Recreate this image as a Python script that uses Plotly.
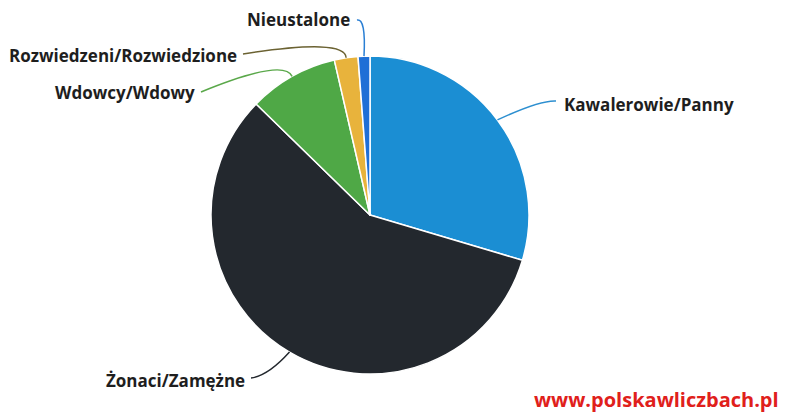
import math
import plotly.graph_objects as go

# ---- data ----
categories = ["Kawalerowie/Panny", "Żonaci/Zamężne", "Wdowcy/Wdowy",
              "Rozwiedzeni/Rozwiedzione", "Nieustalone"]
shares = [29.6, 57.7, 9.1, 2.4, 1.2]
colors = ["#1b8ed3", "#23282e", "#4fa846", "#e8b33c", "#1f6fd6"]
line_colors = ["#2d8fd0", "#23282e", "#5aa84a", "#6b6232", "#2a7fd4"]
watermark = "www.polskawliczbach.pl"

# ---- layout (pixels, in screenshot coordinates) ----
W, H = 794, 412
OFF = 8  # page body margin
cx, cy, r = 370, 215, 159
label_pos = {
    "Kawalerowie/Panny": dict(tx=562, ty=104, anchor="left", sx=556, sy=101, qx=540, qy=100),
    "Żonaci/Zamężne": dict(tx=247, ty=380, anchor="right", sx=251, sy=378, qx=268, qy=376),
    "Wdowcy/Wdowy": dict(tx=197, ty=92, anchor="right", sx=201, sy=92, qx=284, qy=58),
    "Rozwiedzeni/Rozwiedzione": dict(tx=239, ty=56, anchor="right", sx=243, sy=54, qx=346, qy=38),
    "Nieustalone": dict(tx=352, ty=20, anchor="right", sx=357, sy=20, qx=366, qy=18),
}

def px(x):
    return (x - OFF) / W

def py(y):
    return 1 - (y - OFF) / H

fig = go.Figure(go.Pie(
    labels=categories, values=shares, sort=False, direction="clockwise",
    rotation=0, textinfo="none", hoverinfo="label+percent",
    marker=dict(colors=colors, line=dict(color="white", width=1.5)),
    domain=dict(x=[px(cx - r), px(cx + r)], y=[py(cy + r), py(cy - r)]),
    showlegend=False,
))

total = sum(shares)
acc = 0.0
shapes, annotations = [], []
for cat, val, lc in zip(categories, shares, line_colors):
    mid = (acc + val / 2) / total * 2 * math.pi
    acc += val
    ax = cx + r * math.sin(mid)
    ay = cy - r * math.cos(mid)
    p = label_pos[cat]
    path = "M {:.5f} {:.5f} Q {:.5f} {:.5f} {:.5f} {:.5f}".format(
        px(p["sx"]), py(p["sy"]), px(p["qx"]), py(p["qy"]), px(ax), py(ay))
    shapes.append(dict(type="path", xref="paper", yref="paper", path=path,
                       line=dict(color=lc, width=1.5)))
    annotations.append(dict(
        text="<b>" + cat + "</b>", x=px(p["tx"]), y=py(p["ty"]),
        xref="paper", yref="paper", xanchor=p["anchor"], yanchor="middle",
        showarrow=False, font=dict(family="Open Sans", size=17, color="#1e1e1e")))

annotations.append(dict(
    text="<b>" + watermark + "</b>", x=px(781), y=py(399), xref="paper", yref="paper",
    xanchor="right", yanchor="middle", showarrow=False,
    font=dict(family="Open Sans", size=20, color="#e0201b")))

fig.update_layout(
    width=W, height=H, margin=dict(l=0, r=0, t=0, b=0),
    paper_bgcolor="white", plot_bgcolor="white",
    shapes=shapes, annotations=annotations,
)

fig.write_html("out.html")
